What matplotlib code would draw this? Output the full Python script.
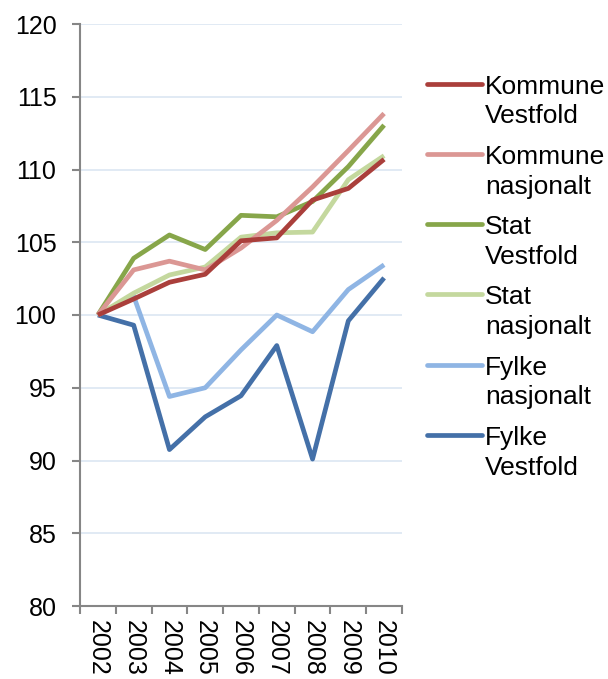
import numpy as np
import matplotlib.pyplot as plt
from matplotlib.lines import Line2D

plt.rcParams['font.family'] = ['Liberation Sans', 'DejaVu Sans']

years = ['2002', '2003', '2004', '2005', '2006', '2007', '2008', '2009', '2010']

kommune_vestfold = [100, 101.1, 102.25, 102.8, 105.1, 105.3, 107.9, 108.7, 110.7]
kommune_nasjonalt = [100, 103.1, 103.7, 103.1, 104.6, 106.5, 108.8, 111.3, 113.85]
stat_vestfold = [100, 103.9, 105.5, 104.5, 106.85, 106.75, 107.8, 110.2, 113.05]
stat_nasjonalt = [100, 101.5, 102.75, 103.3, 105.35, 105.65, 105.7, 109.3, 110.95]
fylke_nasjonalt = [100, 101.3, 94.4, 95.0, 97.6, 100.0, 98.85, 101.75, 103.45]
fylke_vestfold = [100, 99.3, 90.75, 93.0, 94.45, 97.9, 90.1, 99.6, 102.55]

series = [
    ('Kommune\nVestfold', kommune_vestfold, '#AA3F3B'),
    ('Kommune\nnasjonalt', kommune_nasjonalt, '#DB9794'),
    ('Stat\nVestfold', stat_vestfold, '#87A64A'),
    ('Stat\nnasjonalt', stat_nasjonalt, '#C4D89E'),
    ('Fylke\nnasjonalt', fylke_nasjonalt, '#8FB5E4'),
    ('Fylke\nVestfold', fylke_vestfold, '#4470A8'),
]

W, H = 608, 679
fig = plt.figure(figsize=(W / 100, H / 100), dpi=100)
ax = fig.add_axes([80 / W, 1 - 606 / H, 322 / W, 582 / H])

x = np.arange(len(years))
# draw in reverse so the first series sits on top like the original
for label, vals, col in series[::-1]:
    ax.plot(x, vals, color=col, lw=3.4, solid_capstyle='butt')

ax.set_xlim(-0.5, len(years) - 0.5)
ax.set_ylim(80, 120)
ax.set_yticks(np.arange(80, 121, 5))
ax.set_xticks(x)
ax.set_xticklabels(years, rotation=270)
ax.set_xticks(np.arange(-0.5, len(years)), minor=True)
ax.tick_params(axis='x', which='major', length=0, labelsize=18, pad=10)
ax.tick_params(axis='x', which='minor', length=6, color='#868686', width=1.5)
ax.tick_params(axis='y', length=6, color='#868686', width=1.5, labelsize=18, pad=11)

ax.grid(axis='y', color='#DCE6F2', lw=1.2)
ax.set_axisbelow(True)
for s in ['top', 'right']:
    ax.spines[s].set_visible(False)
for s in ['left', 'bottom']:
    ax.spines[s].set_color('#868686')
    ax.spines[s].set_linewidth(1.5)

# legend: handle aligned with the first line of each two-line label
for i, (label, vals, col) in enumerate(series):
    yy = 1 - (83.5 + i * 70.3) / H
    fig.add_artist(Line2D([427 / W, 482 / W], [yy, yy], color=col, lw=3.4,
                          solid_capstyle='round', transform=fig.transFigure))
    fig.text(485 / W, yy + 9 / H, label, fontsize=19, va='top', ha='left',
             linespacing=1.3)

plt.savefig('out.png', dpi=100)
